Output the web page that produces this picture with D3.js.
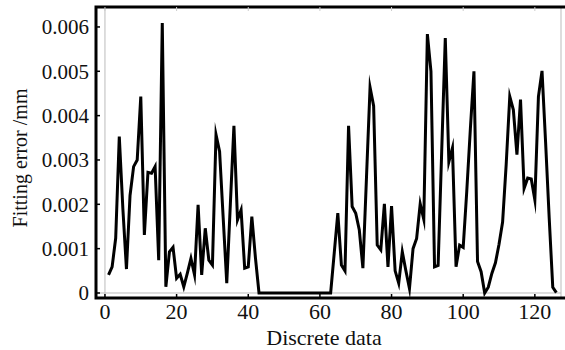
<!DOCTYPE html>
<html>
<head>
<meta charset="utf-8">
<script src="https://cdnjs.cloudflare.com/ajax/libs/d3/7.8.5/d3.min.js"></script>
<style>
body { margin: 0; background: #fff; }
</style>
</head>
<body>
<div id="graph"></div>
<script>
// fitting error per discrete sample (index starts at 1)
var errors = [
    0.00041, 0.00059, 0.00124, 0.00353, 0.0019, 0.00054, 0.0022, 0.00285, 0.0030, 0.00443,
    0.00131, 0.00272, 0.0027, 0.00285, 0.00074, 0.00609, 0.00014, 0.00093, 0.00103, 0.00033,
    0.00042, 0.00014, 0.00045, 0.00078, 0.00041, 0.00199, 0.00041, 0.00146, 0.00074, 0.00063,
    0.00357, 0.00319, 0.0017, 0.00022, 0.0020, 0.00377, 0.00165, 0.00187, 0.00056, 0.00059,
    0.00172, 0.0008, 0, 0, 0, 0, 0, 0, 0, 0,
    0, 0, 0, 0, 0, 0, 0, 0, 0, 0,
    0, 0, 0, 0.0009, 0.0018, 0.00063, 0.0005, 0.00377, 0.00195, 0.0018,
    0.00142, 0.00056, 0.0026, 0.00464, 0.00422, 0.00108, 0.00097, 0.00201, 0.00059, 0.00196,
    0.0005, 0.00022, 0.00093, 0.0005, 0.0001, 0.001, 0.00123, 0.00201, 0.00166, 0.00584,
    0.005, 0.00059, 0.00062, 0.0032, 0.00575, 0.00296, 0.00327, 0.00059, 0.00108, 0.00103,
    0.0023, 0.0037, 0.005, 0.00071, 0.00048, 0, 0.00013, 0.00044, 0.00068, 0.0011,
    0.0016, 0.0029, 0.00443, 0.00413, 0.00312, 0.00436, 0.00236, 0.00259, 0.00257, 0.0021,
    0.00443, 0.00501, 0.0034, 0.0017, 0.00013, 0.00001
]
var xTicks = [0, 20, 40, 60, 80, 100, 120]
var yTicks = [0, 0.001, 0.002, 0.003, 0.004, 0.005, 0.006]
var yTickLabels = ["0", "0.001", "0.002", "0.003", "0.004", "0.005", "0.006"]

var width = 565, height = 350
var plot = {left: 96, right: 561, top: 7, bottom: 298}
var serif = "'Liberation Serif', 'DejaVu Serif', serif"

var svg = d3.select("#graph").append("svg")
    .attr("width", width)
    .attr("height", height)
    .attr("font-family", serif)

var x = d3.scaleLinear().domain([-2.5, 127.3]).range([plot.left, plot.right])
var y = d3.scaleLinear().domain([-0.000113, 0.00645]).range([plot.bottom, plot.top])

// gray axes through the origin
svg.append("line")
    .attr("x1", x(0)).attr("x2", x(0))
    .attr("y1", plot.top).attr("y2", plot.bottom)
    .attr("stroke", "#bbb").attr("stroke-width", 1)
svg.append("line")
    .attr("x1", plot.left).attr("x2", plot.right)
    .attr("y1", y(0)).attr("y2", y(0))
    .attr("stroke", "#bbb").attr("stroke-width", 1)

// data line
var line = d3.line()
    .x(function(d, i) { return x(i + 1) })
    .y(function(d) { return y(d) })

svg.append("path")
    .datum(errors)
    .attr("fill", "none")
    .attr("stroke", "#000")
    .attr("stroke-width", 3)
    .attr("stroke-linejoin", "miter")
    .attr("stroke-miterlimit", 10)
    .attr("d", line)

// frame
svg.append("line")
    .attr("x1", plot.right).attr("x2", plot.right)
    .attr("y1", plot.top).attr("y2", plot.bottom)
    .attr("stroke", "#bbb").attr("stroke-width", 1)
svg.append("path")
    .attr("d", "M565," + plot.top + "H" + plot.left + "V" + plot.bottom + "H565")
    .attr("fill", "none")
    .attr("stroke", "#000")
    .attr("stroke-width", 3)

// ticks
var axisLayer = svg.append("g")

axisLayer.selectAll(".ytick")
    .data(yTicks)
    .enter().append("line")
    .attr("x1", plot.left).attr("x2", plot.left + 4)
    .attr("y1", function(d) { return y(d) })
    .attr("y2", function(d) { return y(d) })
    .attr("stroke", "#000").attr("stroke-width", 1.5)

axisLayer.selectAll(".xtick")
    .data(xTicks)
    .enter().append("line")
    .attr("x1", function(d) { return x(d) })
    .attr("x2", function(d) { return x(d) })
    .attr("y1", plot.bottom).attr("y2", plot.bottom - 4)
    .attr("stroke", "#000").attr("stroke-width", 1.5)

axisLayer.selectAll(".xtop")
    .data(xTicks)
    .enter().append("line")
    .attr("x1", function(d) { return x(d) })
    .attr("x2", function(d) { return x(d) })
    .attr("y1", plot.top).attr("y2", plot.top + 4)
    .attr("stroke", "#ccc").attr("stroke-width", 1)

axisLayer.selectAll(".ylabel")
    .data(yTicks)
    .enter().append("text")
    .attr("x", 89)
    .attr("y", function(d) { return y(d) })
    .attr("dy", "0.35em")
    .attr("text-anchor", "end")
    .attr("font-family", serif)
    .attr("font-size", "21px")
    .attr("fill", "#111")
    .text(function(d, i) { return yTickLabels[i] })

axisLayer.selectAll(".xlabel")
    .data(xTicks)
    .enter().append("text")
    .attr("x", function(d) { return x(d) })
    .attr("y", 319)
    .attr("text-anchor", "middle")
    .attr("font-family", serif)
    .attr("font-size", "22px")
    .attr("fill", "#111")
    .text(function(d) { return d })

svg.append("text")
    .attr("x", 324)
    .attr("y", 345)
    .attr("text-anchor", "middle")
    .attr("font-family", serif)
    .attr("font-size", "22px")
    .attr("fill", "#111")
    .text("Discrete data")

svg.append("text")
    .attr("transform", "translate(27,158) rotate(-90)")
    .attr("text-anchor", "middle")
    .attr("font-family", serif)
    .attr("font-size", "20px")
    .attr("fill", "#111")
    .text("Fitting error /mm")
</script>
</body>
</html>
